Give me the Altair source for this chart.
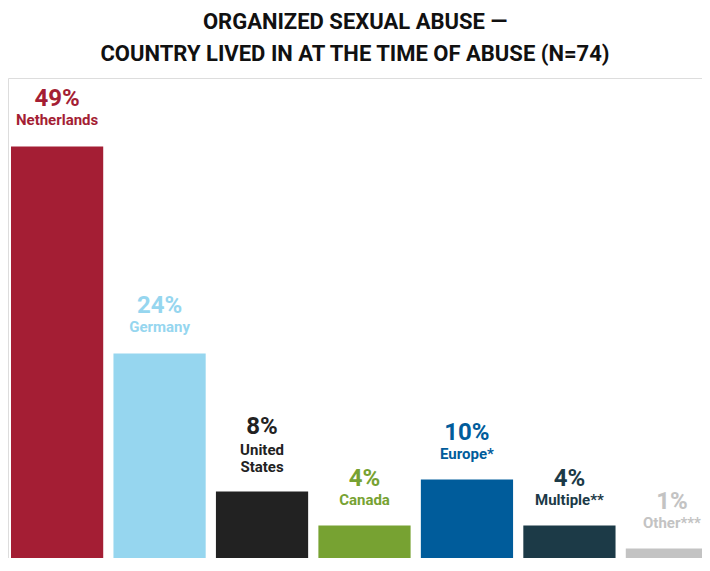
import altair as alt
import pandas as pd

# ---- data ----
categories = ["Netherlands", "Germany", "United\nStates", "Canada", "Europe*", "Multiple**", "Other***"]
shares = [48.6, 24.3, 8.1, 4.1, 9.5, 4.1, 1.4]          # % of respondents (bar heights)
share_labels = ["49%", "24%", "8%", "4%", "10%", "4%", "1%"]

# ---- styling ----
bar_colors = ["#A41E34", "#96D6EF", "#222222", "#77A232", "#005C9B", "#1C3A47", "#C3C3C3"]
text_colors = ["#A41E34", "#96D6EF", "#222222", "#77A232", "#005C9B", "#1C3A47", "#CCCCCC"]
FONT = "Roboto"

df = pd.DataFrame({
    "cat": categories,
    "share": shares,
    "label": share_labels,
    "lines": [c.count("\n") + 1 for c in categories],
})

# scales: bars run to the right / bottom edge and are cut off there, as in the reference
x = alt.X("cat:N", sort=categories, axis=None,
          scale=alt.Scale(paddingInner=0.1, paddingOuter=0, range=[3, 710]))
y = alt.Y("share:Q", axis=None,
          scale=alt.Scale(domain=[0, 50], nice=False, zero=True, range=[482.5, 56.5]))

base = alt.Chart(df).encode(x=x, y=y)
one = base.transform_filter("datum.lines == 1")
two = base.transform_filter("datum.lines == 2")
text_color = alt.Color("cat:N", scale=alt.Scale(domain=categories, range=text_colors), legend=None)

bars = base.mark_bar().encode(
    color=alt.Color("cat:N", scale=alt.Scale(domain=categories, range=bar_colors), legend=None)
)

name_one = one.mark_text(
    font=FONT, fontSize=15, fontWeight="bold", baseline="alphabetic", dy=-21
).encode(text="cat:N", color=text_color)

name_two = two.mark_text(
    font=FONT, fontSize=15, fontWeight="bold", baseline="bottom", dy=-33,
    lineBreak="\n", lineHeight=17
).encode(text="cat:N", color=text_color)

pct_one = one.mark_text(
    font=FONT, fontSize=24, fontWeight="bold", baseline="alphabetic", dy=-40
).encode(text="label:N", color=text_color)

pct_two = two.mark_text(
    font=FONT, fontSize=24, fontWeight="bold", baseline="alphabetic", dy=-57
).encode(text="label:N", color=text_color)

chart = alt.layer(bars, name_one, name_two, pct_one, pct_two).properties(
    width=694,
    height=480,
    autosize=alt.AutoSizeParams(type="none"),
    padding={"left": 0, "top": 70, "right": 0, "bottom": 0},
    title=alt.TitleParams(
        text=["ORGANIZED SEXUAL ABUSE —", "COUNTRY LIVED IN AT THE TIME OF ABUSE (N=74)"],
        font=FONT, fontSize=22, fontWeight="bold", color="#111111",
        anchor="middle", lineHeight=32, offset=12,
    ),
).configure_view(stroke=None).configure(background="#ffffff")

chart.save("out.html", embed_options={"renderer": "svg", "actions": False})
